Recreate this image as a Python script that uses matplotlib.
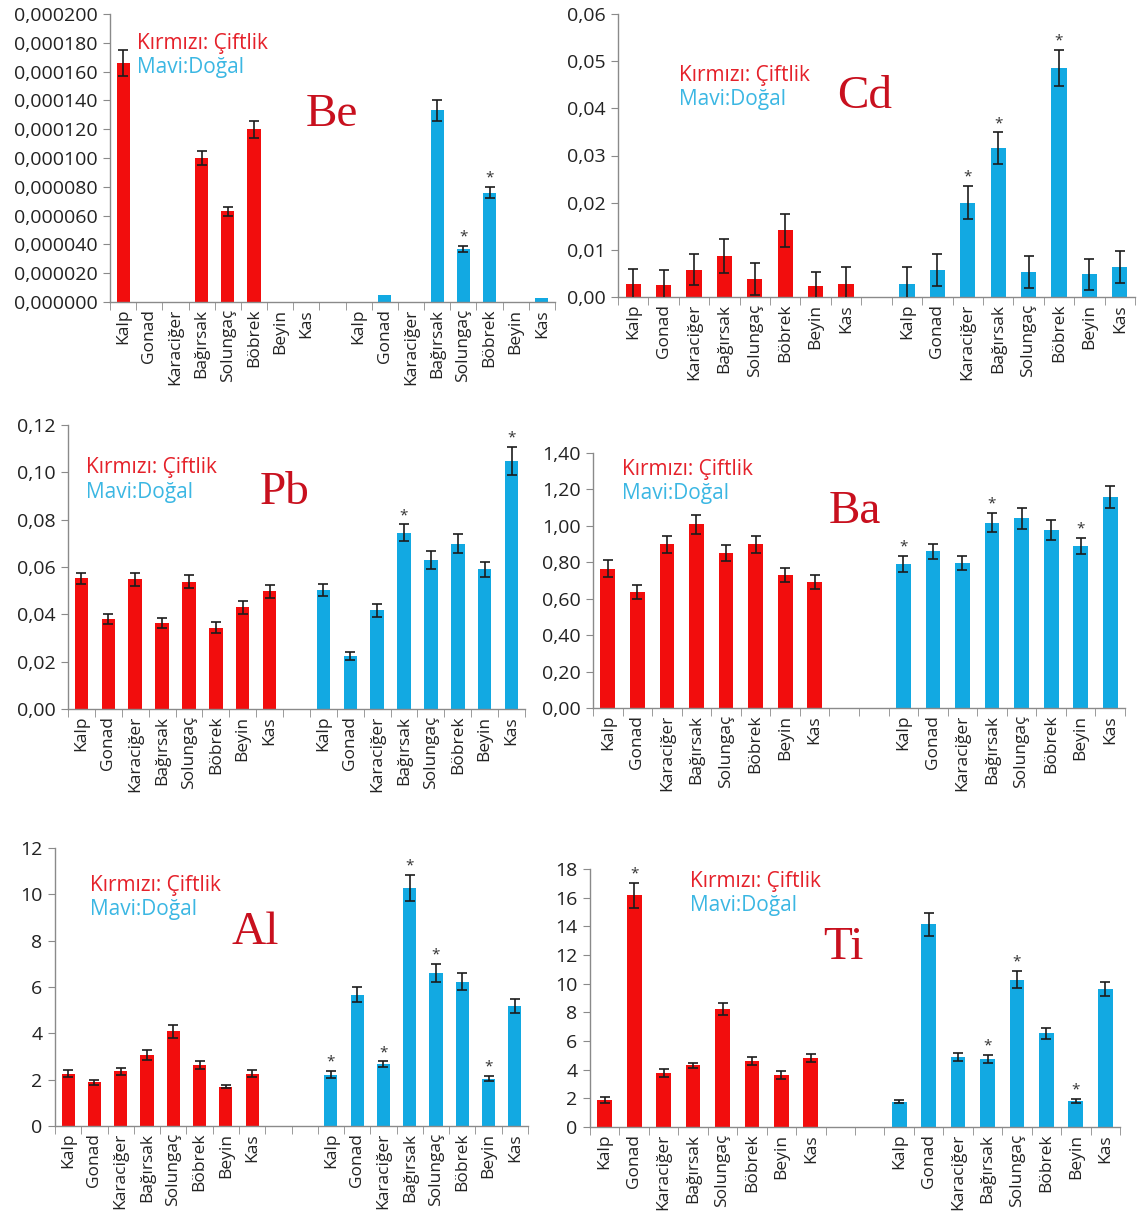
import numpy as np
import matplotlib
matplotlib.use("Agg")
import matplotlib.pyplot as plt
from matplotlib.ticker import FuncFormatter

# ---------- data ----------
ORGANS = ["Kalp", "Gonad", "Karaciğer", "Bağırsak", "Solungaç", "Böbrek", "Beyin", "Kas"]

BE_FARM = [0.000166, 0, 0, 0.000100, 0.000063, 0.000120, 0, 0]
BE_FARM_ERR = [0.000009, 0, 0, 0.000005, 0.000003, 0.000006, 0, 0]
BE_WILD = [0, 0.000005, 0, 0.000133, 0.000037, 0.000076, 0, 0.000003]
BE_WILD_ERR = [0, 0, 0, 0.000007, 0.000002, 0.000004, 0, 0]
BE_STARS = ([], [4, 5])

CD_FARM = [0.0028, 0.0025, 0.0058, 0.0086, 0.0039, 0.0142, 0.0023, 0.0028]
CD_FARM_ERR = [0.0032, 0.0033, 0.0033, 0.0036, 0.0034, 0.0035, 0.0031, 0.0035]
CD_WILD = [0.0028, 0.0057, 0.0200, 0.0316, 0.0053, 0.0486, 0.0048, 0.0064]
CD_WILD_ERR = [0.0035, 0.0034, 0.0035, 0.0033, 0.0034, 0.0038, 0.0033, 0.0034]
CD_STARS = ([], [2, 3, 5])

PB_FARM = [0.0552, 0.0380, 0.0548, 0.0364, 0.0538, 0.0343, 0.0429, 0.0497]
PB_FARM_ERR = [0.0024, 0.0022, 0.0028, 0.0021, 0.0027, 0.0023, 0.0028, 0.0027]
PB_WILD = [0.0503, 0.0224, 0.0417, 0.0744, 0.0629, 0.0699, 0.0590, 0.1049]
PB_WILD_ERR = [0.0026, 0.0017, 0.0028, 0.0036, 0.0038, 0.0039, 0.0031, 0.0059]
PB_STARS = ([], [3, 7])

BA_FARM = [0.764, 0.638, 0.898, 1.008, 0.852, 0.898, 0.732, 0.692]
BA_FARM_ERR = [0.046, 0.039, 0.046, 0.053, 0.044, 0.046, 0.039, 0.040]
BA_WILD = [0.791, 0.861, 0.797, 1.017, 1.041, 0.977, 0.892, 1.159]
BA_WILD_ERR = [0.042, 0.042, 0.037, 0.053, 0.059, 0.055, 0.044, 0.061]
BA_STARS = ([], [0, 3, 6])

AL_FARM = [2.26, 1.88, 2.36, 3.08, 4.08, 2.62, 1.70, 2.26]
AL_FARM_ERR = [0.14, 0.10, 0.16, 0.21, 0.26, 0.17, 0.06, 0.16]
AL_WILD = [2.22, 5.67, 2.66, 10.28, 6.60, 6.23, 2.05, 5.17]
AL_WILD_ERR = [0.14, 0.31, 0.13, 0.57, 0.39, 0.37, 0.11, 0.31]
AL_STARS = ([], [0, 2, 3, 4, 6])

TI_FARM = [1.89, 16.16, 3.80, 4.30, 8.22, 4.58, 3.61, 4.81]
TI_FARM_ERR = [0.23, 0.87, 0.28, 0.16, 0.41, 0.28, 0.28, 0.25]
TI_WILD = [1.77, 14.15, 4.88, 4.72, 10.29, 6.54, 1.82, 9.64]
TI_WILD_ERR = [0.12, 0.81, 0.30, 0.28, 0.60, 0.39, 0.12, 0.49]
TI_STARS = ([1], [3, 4, 6])

# ---------- style ----------
W, H = 1137, 1215
RED = "#F20D0D"
BLUE = "#12A9E2"
LEG_RED = "#E5212A"
LEG_BLUE = "#3BB7E3"
TITLE_RED = "#C8101E"
AXIS_GREY = "#8A8A8A"
SANS = ["Open Sans", "DejaVu Sans"]
SERIF = ["Liberation Serif", "DejaVu Serif"]

plt.rcParams["font.family"] = SANS


def rect(l, t, r, b):
    return [l / W, 1 - b / H, (r - l) / W, (b - t) / H]


def fxy(x, y):
    return x / W, 1 - y / H


def comma_fmt(decimals):
    return FuncFormatter(lambda v, _: f"{v:.{decimals}f}".replace(".", ","))


def draw_panel(ax, farm, farm_err, wild, wild_err, stars, gap, ymax, ystep, decimals):
    x_farm = np.arange(len(ORGANS))
    x_wild = np.arange(len(ORGANS)) + len(ORGANS) + gap
    total = 2 * len(ORGANS) + gap

    for xs, vals, errs, col, star_idx in (
        (x_farm, farm, farm_err, RED, stars[0]),
        (x_wild, wild, wild_err, BLUE, stars[1]),
    ):
        vals = np.asarray(vals, float)
        errs = np.asarray(errs, float)
        ax.bar(xs, vals, width=0.5, color=col, zorder=2)
        m = errs > 0
        ax.errorbar(xs[m], vals[m], yerr=errs[m], fmt="none", ecolor="#1c1c1c",
                    elinewidth=1.2, capsize=3.5, capthick=1.2, zorder=3)
        for i in star_idx:
            ax.annotate("*", (xs[i], vals[i] + errs[i]), xytext=(0, 1),
                        textcoords="offset points", ha="center", va="bottom",
                        fontsize=11, color="#333333")

    ax.set_xlim(-0.5, total - 0.5)
    ax.set_ylim(0, ymax)
    ax.set_yticks(np.arange(0, ymax + ystep / 2, ystep))
    ax.yaxis.set_major_formatter(comma_fmt(decimals))

    ax.set_xticks(np.concatenate([x_farm, x_wild]))
    ax.set_xticklabels(ORGANS * 2, rotation=90, fontsize=12.5, color="#222222")
    ax.set_xticks(np.arange(-0.5, total, 1), minor=True)
    ax.tick_params(axis="x", which="major", length=0, pad=5)
    ax.tick_params(axis="x", which="minor", length=6, color=AXIS_GREY, direction="out")
    ax.tick_params(axis="y", length=5, color=AXIS_GREY, labelsize=14,
                   labelcolor="#222222", pad=4)

    for s in ("top", "right"):
        ax.spines[s].set_visible(False)
    for s in ("left", "bottom"):
        ax.spines[s].set_color(AXIS_GREY)
        ax.spines[s].set_linewidth(1)


fig = plt.figure(figsize=(W / 100, H / 100), dpi=100)
fig.patch.set_facecolor("white")

panels = [
    # data, axes rect (px), gap, ymax, ystep, decimals, element, element pos, legend pos
    ((BE_FARM, BE_FARM_ERR, BE_WILD, BE_WILD_ERR, BE_STARS), (110, 14, 555, 302),
     1, 0.0002, 0.00002, 6, "Be", (332, 115), (137, 43)),
    ((CD_FARM, CD_FARM_ERR, CD_WILD, CD_WILD_ERR, CD_STARS), (618, 14, 1135, 297),
     1, 0.06, 0.01, 2, "Cd", (865, 97), (679, 76)),
    ((PB_FARM, PB_FARM_ERR, PB_WILD, PB_WILD_ERR, PB_STARS), (68, 425, 525, 709),
     1, 0.12, 0.02, 2, "Pb", (285, 493), (86, 468)),
    ((BA_FARM, BA_FARM_ERR, BA_WILD, BA_WILD_ERR, BA_STARS), (593, 453, 1125, 708),
     2, 1.4, 0.2, 2, "Ba", (855, 512), (622, 470)),
    ((AL_FARM, AL_FARM_ERR, AL_WILD, AL_WILD_ERR, AL_STARS), (55, 848, 528, 1126),
     2, 12, 2, 0, "Al", (255, 933), (90, 885)),
    ((TI_FARM, TI_FARM_ERR, TI_WILD, TI_WILD_ERR, TI_STARS), (590, 869, 1120, 1127),
     2, 18, 2, 0, "Ti", (843, 948), (690, 882)),
]

for data, box, gap, ymax, ystep, dec, elem, elem_xy, leg_xy in panels:
    ax = fig.add_axes(rect(*box))
    draw_panel(ax, *data, gap=gap, ymax=ymax, ystep=ystep, decimals=dec)
    fig.text(*fxy(*elem_xy), elem, family=SERIF, fontsize=34, color=TITLE_RED,
             ha="center", va="center")
    fig.text(*fxy(*leg_xy), "Kırmızı: Çiftlik", fontsize=15, color=LEG_RED,
             ha="left", va="center")
    fig.text(*fxy(leg_xy[0], leg_xy[1] + 24), "Mavi:Doğal", fontsize=15,
             color=LEG_BLUE, ha="left", va="center")

fig.savefig("out.png", dpi=100, facecolor="white")
